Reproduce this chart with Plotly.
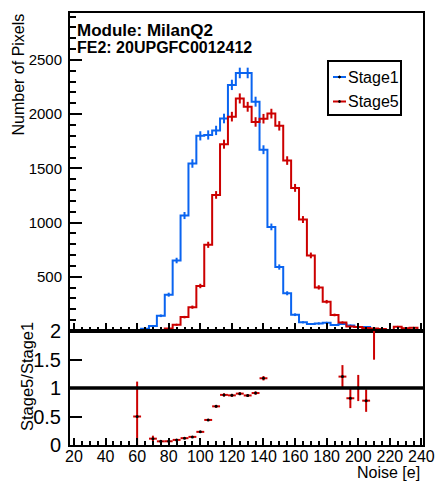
import numpy as np
import plotly.graph_objects as go

# ---------------- data ----------------
noise_centers = [55, 60, 65, 70, 75, 80, 85, 90, 95, 100, 105, 110, 115, 120, 125, 130,
                 135, 140, 145, 150, 155, 160, 165, 170, 175, 180, 185, 190, 195, 200,
                 205, 210, 215, 220, 225, 230, 235, 240]
stage1_counts = [0, 2, 20, 45, 140, 335, 650, 1065, 1545, 1800, 1808, 1850, 1960, 2270, 2380, 2380,
                 2115, 1672, 960, 590, 348, 150, 80, 65, 70, 75, 55, 65, 50, 38,
                 36, 10, 0, 0, 0, 0, 0, 0]
stage5_counts = [0, 1, 0, 5, 9, 22, 58, 128, 220, 415, 795, 1255, 1723, 1977, 2145, 2068,
                 1928, 1958, 2005, 1892, 1572, 1320, 1028, 697, 402, 270, 148, 78, 41, 38,
                 28, 24, 18, 10, 40, 25, 30, 0]
bin_width = 5
series_names = ["Stage1", "Stage5"]
top_y_ticks = [500, 1000, 1500, 2000, 2500]
ratio_y_ticks = [0, 0.5, 1, 1.5, 2]
ratio_y_labels = ["0", "0.5", "1", "1.5", "2"]
x_ticks = list(range(20, 241, 20))

# ---------------- style ----------------
BLUE = "#0a64f0"
RED = "#cc0000"
FONT = "Liberation Sans"
W, H = 439, 481
ML, MR, MT, MB = 70, 16, 13, 36
PW, PH = W - ML - MR, H - MT - MB
RATIO_FRAC = 114 / PH


def px_x(px):
    return (px - ML) / PW


def px_y(py):
    return (H - MB - py) / PH


c = np.array(noise_centers, dtype=float)
s1 = np.array(stage1_counts, dtype=float)
s5 = np.array(stage5_counts, dtype=float)
edges = c - bin_width / 2.0
x_step = np.append(edges, edges[-1] + bin_width)

fig = go.Figure()

for counts, col in ((s1, BLUE), (s5, RED)):
    fig.add_trace(go.Scatter(
        x=x_step, y=np.append(counts, counts[-1]), mode="lines",
        line=dict(color=col, width=2, shape="hv"),
        xaxis="x", yaxis="y", showlegend=False, hoverinfo="skip"))
    nz = counts > 0
    fig.add_trace(go.Scatter(
        x=c[nz], y=counts[nz], mode="markers",
        marker=dict(color=col, size=2),
        error_y=dict(type="data", array=np.sqrt(counts[nz]), color=col, thickness=2, width=0),
        xaxis="x", yaxis="y", showlegend=False, hoverinfo="skip"))

# ratio
both = (s1 > 0) & (s5 > 0)
ratio = s5[both] / s1[both]
ratio_err = ratio * np.sqrt(1.0 / s5[both] + 1.0 / s1[both])
fig.add_trace(go.Scatter(
    x=c[both], y=ratio, mode="markers",
    marker=dict(color="black", size=3),
    error_y=dict(type="data", array=ratio_err, color=RED, thickness=2, width=0),
    error_x=dict(type="constant", value=bin_width / 2.0, color=RED, thickness=2, width=0),
    xaxis="x2", yaxis="y2", showlegend=False, hoverinfo="skip"))

axis_common = dict(showline=True, mirror=True, linecolor="black", linewidth=2,
                   showgrid=False, zeroline=False, ticks="inside", tickcolor="black",
                   automargin=False)
xrange = [17.5, 241]

fig.update_layout(
    width=W, height=H,
    margin=dict(l=ML, r=MR, t=MT, b=MB, autoexpand=False),
    plot_bgcolor="white", paper_bgcolor="white",
    font=dict(family=FONT, color="black"),
    xaxis=dict(domain=[0, 1], anchor="y", range=xrange, matches="x2",
               tickvals=x_ticks, showticklabels=False, ticklen=8, tickwidth=1.5,
               minor=dict(dtick=5, tick0=0, ticklen=4, tickwidth=1.5, ticks="inside", tickcolor="black"),
               **axis_common),
    yaxis=dict(domain=[RATIO_FRAC, 1], anchor="x", range=[0, 2933],
               tickvals=top_y_ticks, ticklen=12, tickwidth=1.5,
               tickfont=dict(size=15), ticklabelstandoff=3,
               minor=dict(dtick=100, tick0=0, ticklen=6, tickwidth=1.5, ticks="inside", tickcolor="black"),
               **axis_common),
    xaxis2=dict(domain=[0, 1], anchor="y2", range=xrange,
                tickvals=x_ticks, ticklen=7, tickwidth=1.5, tickangle=0,
                tickfont=dict(size=16), ticklabelstandoff=-4,
                minor=dict(dtick=5, tick0=0, ticklen=4, tickwidth=1.5, ticks="inside", tickcolor="black"),
                **axis_common),
    yaxis2=dict(domain=[0, RATIO_FRAC], anchor="x2", range=[0, 2],
                tickvals=ratio_y_ticks, ticktext=ratio_y_labels, ticklen=12, tickwidth=1.5,
                tickfont=dict(size=20), ticklabelstandoff=3,
                **axis_common),
)

# reference line at ratio 1
fig.add_shape(type="line", xref="x2 domain", yref="y2", x0=0, x1=1, y0=1, y1=1,
              line=dict(color="black", width=3.5))

ann = []
ann.append(dict(text="<b>Module: MilanQ2</b>", x=px_x(76), y=px_y(30), xanchor="left", yanchor="middle",
                font=dict(size=17, family=FONT)))
ann.append(dict(text="<b>FE2: 20UPGFC0012412</b>", x=px_x(76), y=px_y(47), xanchor="left", yanchor="middle",
                font=dict(size=16, family=FONT)))
ann.append(dict(text="Number of Pixels", x=px_x(17.5), y=px_y(13), xanchor="center", yanchor="top",
                textangle=-90, font=dict(size=16, family=FONT)))
ann.append(dict(text="Stage5/Stage1", x=px_x(27), y=px_y(377), xanchor="center", yanchor="middle",
                textangle=-90, font=dict(size=16.5, family=FONT)))
ann.append(dict(text="Noise [e]", x=px_x(421), y=px_y(472), xanchor="right", yanchor="middle",
                font=dict(size=16, family=FONT)))

# legend box
fig.add_shape(type="rect", xref="paper", yref="paper", x0=px_x(328), x1=px_x(401), y0=px_y(115), y1=px_y(61),
              line=dict(color="black", width=2), fillcolor="white", layer="above")
for i, (name, col) in enumerate(zip(series_names, (BLUE, RED))):
    yy = px_y(77 + 24.5 * i)
    fig.add_shape(type="line", xref="paper", yref="paper", x0=px_x(333), x1=px_x(346), y0=yy, y1=yy,
                  line=dict(color=col, width=2))
    fig.add_shape(type="circle", xref="paper", yref="paper", x0=px_x(338.5), x1=px_x(340.5),
                  y0=yy - 1 / PH, y1=yy + 1 / PH, line=dict(color="black", width=1), fillcolor="black")
    ann.append(dict(text=name, x=px_x(347), y=yy, xanchor="left", yanchor="middle",
                    font=dict(size=16, family=FONT)))

for a in ann:
    a.update(xref="paper", yref="paper", showarrow=False, borderpad=0)
fig.update_layout(annotations=ann)

fig.write_html("out.html", config={"displayModeBar": False},
               post_script="document.body.style.margin='0px';")
